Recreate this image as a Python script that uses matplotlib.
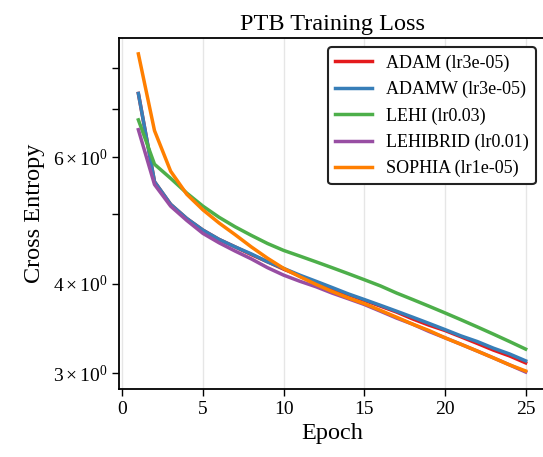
import matplotlib
matplotlib.use("Agg")
import matplotlib.pyplot as plt

plt.rcParams["font.family"] = ["Liberation Serif", "DejaVu Serif"]
plt.rcParams["mathtext.fontset"] = "stix"

epochs = list(range(1, 26))

adam = [7.37, 5.55, 5.16, 4.93, 4.75, 4.61, 4.50, 4.39, 4.29, 4.19, 4.10, 4.01, 3.93, 3.86, 3.79,
        3.72, 3.65, 3.57, 3.50, 3.44, 3.37, 3.30, 3.23, 3.17, 3.10]
adamw = [7.37, 5.55, 5.16, 4.93, 4.75, 4.61, 4.50, 4.40, 4.29, 4.20, 4.11, 4.03, 3.95, 3.87, 3.80,
         3.73, 3.66, 3.59, 3.52, 3.45, 3.38, 3.32, 3.25, 3.19, 3.12]
lehi = [6.77, 5.87, 5.61, 5.35, 5.13, 4.95, 4.80, 4.67, 4.55, 4.45, 4.37, 4.29, 4.21, 4.13, 4.05,
        3.97, 3.88, 3.80, 3.72, 3.64, 3.56, 3.48, 3.40, 3.32, 3.24]
lehibrid = [6.56, 5.50, 5.13, 4.90, 4.70, 4.56, 4.44, 4.33, 4.21, 4.11, 4.03, 3.96, 3.88, 3.81, 3.74,
            3.66, 3.58, 3.51, 3.43, 3.36, 3.29, 3.22, 3.15, 3.08, 3.01]
sophia = [8.37, 6.54, 5.74, 5.33, 5.07, 4.86, 4.68, 4.50, 4.34, 4.20, 4.09, 3.99, 3.90, 3.82, 3.75,
          3.67, 3.59, 3.51, 3.44, 3.36, 3.29, 3.22, 3.15, 3.08, 3.02]

series = [
    ("ADAM (lr3e-05)", adam, "#e41a1c"),
    ("ADAMW (lr3e-05)", adamw, "#377eb8"),
    ("LEHI (lr0.03)", lehi, "#4daf4a"),
    ("LEHIBRID (lr0.01)", lehibrid, "#984ea3"),
    ("SOPHIA (lr1e-05)", sophia, "#ff7f00"),
]

W, H = 543, 457
fig = plt.figure(figsize=(W / 100, H / 100), dpi=100)
ax = fig.add_axes([119 / W, 1 - 389 / H, (545 - 119) / W, (389 - 38.3) / H])

for label, vals, color in series:
    ax.plot(epochs, vals, color=color, linewidth=2.5, label=label)

ax.set_yscale("log")
ax.set_ylim(2.85, 8.8)
ax.set_xlim(-0.2, 26.2)
ax.set_xticks([0, 5, 10, 15, 20, 25])

ax.grid(axis="x", color="#e6e6e6", linewidth=1.0)
ax.set_axisbelow(True)

ax.set_title("PTB Training Loss", fontsize=17.5)
ax.set_xlabel("Epoch", fontsize=17.5)
ax.set_ylabel("Cross Entropy", fontsize=17.5, labelpad=6)
ax.tick_params(axis="both", which="both", labelsize=14, width=1.0)
ax.tick_params(axis="both", which="major", length=5)
ax.tick_params(axis="y", which="minor", length=5)
for s in ax.spines.values():
    s.set_linewidth(1.3)

leg = ax.legend(loc="upper right", fontsize=13, frameon=True, fancybox=True,
                framealpha=1, edgecolor="#222222", borderaxespad=0.5)
leg.get_frame().set_linewidth(1.5)

fig.savefig("out.png", dpi=100)
